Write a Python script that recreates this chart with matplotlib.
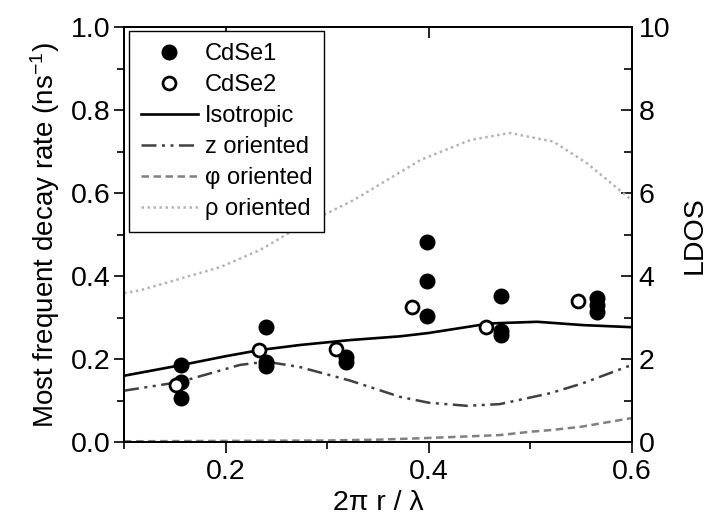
import matplotlib
matplotlib.use("Agg")
import matplotlib.pyplot as plt
from matplotlib.ticker import MultipleLocator

plt.rcParams['font.family'] = ['Liberation Sans', 'DejaVu Sans']
plt.rcParams['mathtext.default'] = 'regular'

# Measured most-frequent decay rates (ns^-1)
cdse1_x = [0.156, 0.156, 0.156, 0.240, 0.240, 0.240, 0.319, 0.319,
           0.398, 0.398, 0.398, 0.471, 0.471, 0.471, 0.566, 0.566, 0.566]
cdse1_y = [0.186, 0.145, 0.106, 0.277, 0.194, 0.184, 0.206, 0.194,
           0.482, 0.388, 0.304, 0.352, 0.268, 0.258, 0.347, 0.330, 0.314]
cdse2_x = [0.151, 0.233, 0.309, 0.384, 0.456, 0.547]
cdse2_y = [0.137, 0.222, 0.224, 0.326, 0.278, 0.340]

# Calculated LDOS curves
iso_x = [0.10, 0.155, 0.20, 0.234, 0.273, 0.323, 0.372, 0.40, 0.46, 0.507, 0.552, 0.60]
iso_y = [1.60, 1.85, 2.07, 2.22, 2.34, 2.46, 2.55, 2.63, 2.86, 2.90, 2.82, 2.77]

z_x = [0.10, 0.155, 0.214, 0.24, 0.273, 0.323, 0.372, 0.40, 0.438, 0.47, 0.52, 0.552, 0.60]
z_y = [1.24, 1.45, 1.86, 1.94, 1.81, 1.48, 1.09, 0.95, 0.875, 0.916, 1.18, 1.42, 1.86]

phi_x = [0.10, 0.20, 0.30, 0.35, 0.40, 0.45, 0.47, 0.50, 0.52, 0.55, 0.60]
phi_y = [0.02, 0.03, 0.04, 0.06, 0.10, 0.15, 0.17, 0.25, 0.29, 0.37, 0.58]

rho_x = [0.10, 0.116, 0.195, 0.234, 0.273, 0.326, 0.392, 0.441, 0.48, 0.523, 0.556, 0.60]
rho_y = [3.59, 3.66, 4.22, 4.63, 5.19, 5.83, 6.80, 7.28, 7.45, 7.24, 6.72, 5.83]

fig = plt.figure(figsize=(7.13, 5.22), dpi=100)
ax = fig.add_axes([0.174, 0.153, 0.712, 0.795])
ax2 = ax.twinx()

l_iso, = ax2.plot(iso_x, iso_y, color='black', lw=1.9, label='Isotropic')
l_z, = ax2.plot(z_x, z_y, color='#404040', lw=1.8,
                linestyle=(0, (6, 2.2, 1.2, 2.2, 1.2, 2.2)), label='z oriented')
l_phi, = ax2.plot(phi_x, phi_y, color='#808080', lw=1.8,
                  linestyle=(0, (3, 1.8)), label='\u03c6 oriented')
l_rho, = ax2.plot(rho_x, rho_y, color='#b4b4b4', lw=1.8,
                  linestyle=(0, (1, 1.4)), label='\u03c1 oriented')

s1, = ax.plot(cdse1_x, cdse1_y, 'o', ms=10.5, color='black', label='CdSe1')
s2, = ax.plot(cdse2_x, cdse2_y, 'o', ms=9.3, mfc='white', mec='black', mew=2.0,
              label='CdSe2')

ax.set_zorder(ax2.get_zorder() + 1)
ax.patch.set_visible(False)

ax.set_xlim(0.1, 0.6)
ax.set_ylim(0.0, 1.0)
ax2.set_ylim(0, 10)

ax.xaxis.set_major_locator(MultipleLocator(0.2))
ax.xaxis.set_minor_locator(MultipleLocator(0.1))
ax.yaxis.set_major_locator(MultipleLocator(0.2))
ax.yaxis.set_minor_locator(MultipleLocator(0.1))
ax2.yaxis.set_major_locator(MultipleLocator(2))
ax2.yaxis.set_minor_locator(MultipleLocator(1))
ax.xaxis.set_major_formatter(plt.FuncFormatter(lambda v, p: f"{v:.1f}"))
ax.yaxis.set_major_formatter(plt.FuncFormatter(lambda v, p: f"{v:.1f}"))

TS = 20.5
ax.tick_params(axis='x', which='major', direction='out', length=8, width=1.2,
               labelsize=TS, top=True, pad=4)
ax.tick_params(axis='x', which='minor', direction='out', length=5, width=1.2, top=False)
ax.tick_params(axis='y', which='major', direction='out', length=7, width=1.2,
               labelsize=TS, right=False, pad=3)
ax.tick_params(axis='y', which='minor', direction='out', length=5, width=1.2, right=False)
ax2.tick_params(axis='y', which='major', direction='in', length=8, width=1.2,
                labelsize=TS, pad=5)
ax2.tick_params(axis='y', which='minor', direction='in', length=6, width=1.2)
for t in ax.xaxis.get_major_ticks():
    t.tick2line.set_marker(3)  # inward tick on top spine
    t.tick2line.set_markersize(8)

for a in (ax, ax2):
    for sp in a.spines.values():
        sp.set_linewidth(1.4)

ax.set_xlabel('2\u03c0 r / \u03bb', fontsize=20.5, labelpad=4)
ax.set_ylabel('Most frequent decay rate (ns$^{-1}$)', fontsize=20, labelpad=6)
ax2.set_ylabel('LDOS', fontsize=20.5, labelpad=8)

leg = ax.legend(handles=[s1, s2, l_iso, l_z, l_phi, l_rho], loc='upper left',
                bbox_to_anchor=(0.01, 0.99), borderaxespad=0, fontsize=17,
                frameon=True, fancybox=False, edgecolor='black', framealpha=1,
                handlelength=2.4, handletextpad=0.3, labelspacing=0.38,
                borderpad=0.5)
leg.get_frame().set_linewidth(1.0)

fig.savefig('out.png', dpi=100)
